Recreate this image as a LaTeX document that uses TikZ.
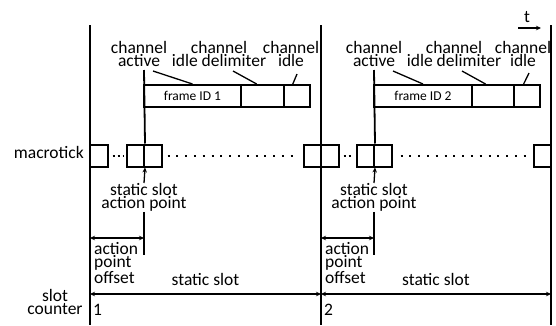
\documentclass[tikz,border=0pt]{standalone}
\usepackage{fontspec}
\setmainfont{Carlito}
\usetikzlibrary{arrows.meta, calc}

\begin{document}
\begin{tikzpicture}[x=1pt,y=-1pt]

\tikzset{tick/.style = {shape=rectangle,draw,line width=2pt,minimum width=17.5pt,minimum height=22pt,inner sep=0pt}}
\tikzset{field/.style = {shape=rectangle,draw,line width=2pt,minimum height=22pt,inner sep=0pt,font=\fontsize{13.5}{13}\selectfont}}
\tikzset{lbl/.style = {align=center,inner sep=0pt,font=\fontsize{17.5}{13.5}\selectfont}}
\tikzset{dim/.style = {<->,>={Stealth[length=5pt,width=4.5pt]},line width=1.3pt}}
\tikzset{dots/.style = {line width=2pt,dash pattern=on 2pt off 6.8pt}}
\tikzset{fewdots/.style = {line width=2pt,dash pattern=on 2pt off 3pt,shorten <=4pt,shorten >=2.5pt}}

\useasboundingbox (0,0) rectangle (556,325);

%slot boundaries
\coordinate (s1t) at (90,25);
\coordinate (s1b) at (90,325);
\coordinate (s2t) at (321,25);
\coordinate (s2b) at (321,325);
\coordinate (s3t) at (551,25);
\coordinate (s3b) at (551,325);
\draw[line width=1.8pt] (s1t) -- (s1b);
\draw[line width=1.8pt] (s2t) -- (s2b);
\draw[line width=1.8pt] (s3t) -- (s3b);

%time arrow
\node[lbl, anchor=base] (t) at (527,22) {t};
\coordinate (ta) at (518,28);
\coordinate (tb) at (541,28);
\draw[->,>={Stealth[length=5pt,width=4.5pt]},line width=1.3pt] (ta) -- (tb);

%frames
\node[field, minimum width=97pt] (frame1) at (192.5,96) {frame ID 1};
\node[field, minimum width=43pt] (delim1) at (262.5,96) {};
\node[field, minimum width=26pt] (idle1) at (297,96) {};
\node[field, minimum width=98pt] (frame2) at (423,96) {frame ID 2};
\node[field, minimum width=42pt] (delim2) at (493,96) {};
\node[field, minimum width=26pt] (idle2) at (527,96) {};

%channel labels
\node[lbl, anchor=north] (act1) at (139,41) {channel\\active};
\node[lbl, anchor=north] (del1) at (219,41) {channel\\idle delimiter};
\node[lbl, anchor=north] (idl1) at (291,41) {channel\\idle};
\node[lbl, anchor=north] (act2) at (374,41) {channel\\active};
\node[lbl, anchor=north] (del2) at (454,41) {channel\\idle delimiter};
\node[lbl, anchor=north] (idl2) at (523,41) {channel\\idle};

\coordinate (pa1) at (153,71);
\coordinate (pd1) at (233,71);
\coordinate (pi1) at (297,74);
\coordinate (pa2) at (393,71);
\coordinate (pd2) at (462,71);
\coordinate (pi2) at (529,73);
\draw[line width=1.3pt] (pa1) -- (frame1.north);
\draw[line width=1.3pt] (pd1) -- ($(delim1.north west)!0.37!(delim1.north east)$);
\draw[line width=1.3pt] (pi1) -- ($(idle1.north west)!0.35!(idle1.north east)$);
\draw[line width=1.3pt] (pa2) -- (frame2.north);
\draw[line width=1.3pt] (pd2) -- ($(delim2.north west)!0.33!(delim2.north east)$);
\draw[line width=1.3pt] (pi2) -- ($(idle2.north west)!0.38!(idle2.north east)$);

%macroticks
\node[lbl, anchor=base east] (mtlbl) at (84,158) {macrotick};
\node[tick] (mt1) at (98.75,155.5) {};
\node[tick] (mt2) at (135.25,155.5) {};
\node[tick] (mt3) at (152.75,155.5) {};
\node[tick] (mt4) at (312.25,155.5) {};
\node[tick] (mt5) at (329.75,155.5) {};
\node[tick] (mt6) at (365.25,155.5) {};
\node[tick] (mt7) at (382.75,155.5) {};
\node[tick] (mt8) at (542.25,155.5) {};
\draw[fewdots] (mt1.east) -- (mt2.west);
\draw[dots, shorten <=5pt, shorten >=4pt] (mt3.east) -- (mt4.west);
\draw[fewdots] (mt5.east) -- (mt6.west);
\draw[dots, shorten <=8pt, shorten >=6pt] (mt7.east) -- (mt8.west);

%action points
\coordinate (ap1t) at (144,70);
\coordinate (ap2t) at (374,70);
\draw[line width=1.8pt] (ap1t) -- (mt2.north east);
\draw[line width=1.8pt] (ap2t) -- (mt6.north east);
\node[lbl, anchor=north] (apl1) at (144,183) {static slot\\action point};
\node[lbl, anchor=north] (apl2) at (374,183) {static slot\\action point};
\draw[->,>={Stealth[length=5pt,width=4.5pt]},line width=1.3pt] (apl1.north) -- (mt2.south east);
\draw[->,>={Stealth[length=5pt,width=4.5pt]},line width=1.3pt] (apl2.north) -- (mt6.south east);
\coordinate (ap1b) at (144,255);
\coordinate (ap2b) at (374,255);
\draw[line width=1.8pt] (apl1.south) -- (ap1b);
\draw[line width=1.8pt] (apl2.south) -- (ap2b);

%offsets
\coordinate (of1a) at (90,238);
\coordinate (of1b) at (144,238);
\coordinate (of2a) at (321,238);
\coordinate (of2b) at (374,238);
\draw[dim] (of1a) -- (of1b);
\draw[dim] (of2a) -- (of2b);
\node[lbl, anchor=north west, align=left] (off1) at (94,242) {action\\point\\offset};
\node[lbl, anchor=north west, align=left] (off2) at (325,242) {action\\point\\offset};

%static slots
\coordinate (ss1a) at (90,294);
\coordinate (ss1b) at (321,294);
\coordinate (ss2a) at (321,294);
\coordinate (ss2b) at (551,294);
\draw[dim] (ss1a) -- (ss1b);
\draw[dim] (ss2a) -- (ss2b);
\node[lbl, anchor=base] (ss1) at (205.5,285) {static slot};
\node[lbl, anchor=base] (ss2) at (436,285) {static slot};

%slot counter
\node[lbl, anchor=north] (sc) at (55,289) {slot\\counter};
\node[lbl, anchor=base west] (c1) at (93,315) {1};
\node[lbl, anchor=base west] (c2) at (324,315) {2};

\end{tikzpicture}
\end{document}
